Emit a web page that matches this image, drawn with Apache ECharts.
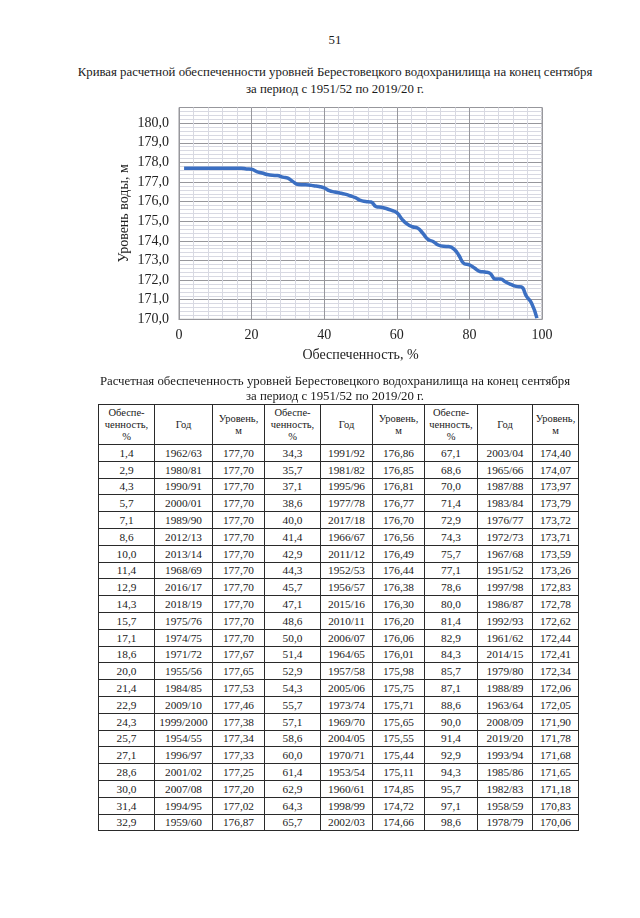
<!DOCTYPE html>
<html>
<head>
<meta charset="utf-8">
<script src="https://cdn.jsdelivr.net/npm/echarts@6/dist/echarts.min.js"></script>
<style>
  html, body { margin: 0; padding: 0; background: #fff; }
  body { width: 640px; height: 918px; position: relative; overflow: hidden; font-family: "Liberation Serif", "DejaVu Serif", serif; color: #1a1a1a; }
  .txt { position: absolute; left: 0; width: 670px; text-align: center; font-size: 12.8px; line-height: 16px; }
  #chart { position: absolute; left: 0; top: 0; width: 640px; height: 380px; }
  #tbl { position: absolute; left: 98px; top: 404px; border-collapse: collapse; table-layout: fixed; width: 480px; }
  #tbl td, #tbl th { border: 1px solid #2a2a2a; text-align: center; padding: 0; font-weight: normal; color: #1a1a1a; }
  #tbl th { line-height: 12px; font-size: 10.5px; }
  #tbl tr.h { height: 40px; }
  #tbl tr.r { height: 16.8px; }
  #tbl td { font-size: 11.3px; line-height: 13px; padding-top: 1px; }
</style>
</head>
<body>
<div class="txt" style="top:32px;">51</div>
<div class="txt" style="top:64px;line-height:17px;">Кривая расчетной обеспеченности уровней Берестовецкого водохранилища на конец сентября<br>за период с 1951/52 по 2019/20 г.</div>
<div id="chart"></div>
<div class="txt" style="top:374px;line-height:15px;">Расчетная обеспеченность уровней Берестовецкого водохранилища на конец сентября<br>за период с 1951/52 по 2019/20 г.</div>
<table id="tbl"></table>
<script>
// Обеспеченность, %
const probability = [1.4,2.9,4.3,5.7,7.1,8.6,10.0,11.4,12.9,14.3,15.7,17.1,18.6,20.0,21.4,22.9,24.3,25.7,27.1,28.6,30.0,31.4,32.9,
  34.3,35.7,37.1,38.6,40.0,41.4,42.9,44.3,45.7,47.1,48.6,50.0,51.4,52.9,54.3,55.7,57.1,58.6,60.0,61.4,62.9,64.3,65.7,
  67.1,68.6,70.0,71.4,72.9,74.3,75.7,77.1,78.6,80.0,81.4,82.9,84.3,85.7,87.1,88.6,90.0,91.4,92.9,94.3,95.7,97.1,98.6];
// Год
const years = ["1962/63","1980/81","1990/91","2000/01","1989/90","2012/13","2013/14","1968/69","2016/17","2018/19","1975/76","1974/75","1971/72","1955/56","1984/85","2009/10","1999/2000","1954/55","1996/97","2001/02","2007/08","1994/95","1959/60",
  "1991/92","1981/82","1995/96","1977/78","2017/18","1966/67","2011/12","1952/53","1956/57","2015/16","2010/11","2006/07","1964/65","1957/58","2005/06","1973/74","1969/70","2004/05","1970/71","1953/54","1960/61","1998/99","2002/03",
  "2003/04","1965/66","1987/88","1983/84","1976/77","1972/73","1967/68","1951/52","1997/98","1986/87","1992/93","1961/62","2014/15","1979/80","1988/89","1963/64","2008/09","2019/20","1993/94","1985/86","1982/83","1958/59","1978/79"];
// Уровень, м
const levels = [177.70,177.70,177.70,177.70,177.70,177.70,177.70,177.70,177.70,177.70,177.70,177.70,177.67,177.65,177.53,177.46,177.38,177.34,177.33,177.25,177.20,177.02,176.87,
  176.86,176.85,176.81,176.77,176.70,176.56,176.49,176.44,176.38,176.30,176.20,176.06,176.01,175.98,175.75,175.71,175.65,175.55,175.44,175.11,174.85,174.72,174.66,
  174.40,174.07,173.97,173.79,173.72,173.71,173.59,173.26,172.83,172.78,172.62,172.44,172.41,172.34,172.06,172.05,171.90,171.78,171.68,171.65,171.18,170.83,170.06];

const fmt = (v, d) => v.toFixed(d).replace('.', ',');

// ---- chart ----
const chart = echarts.init(document.getElementById('chart'), null, { renderer: 'canvas' });
const font = 'Liberation Serif';
const minorColor = '#d8d9e2';
const majorColor = '#97979c';
chart.setOption({
  animation: false,
  grid: { left: 179, top: 107.5, width: 363, height: 211.8, show: true, borderColor: majorColor, borderWidth: 1, containLabel: false },
  xAxis: [
    { type: 'value', min: 0, max: 100, interval: 4, position: 'bottom',
      axisLine: { show: false }, axisTick: { show: false }, axisLabel: { show: false },
      splitLine: { show: true, lineStyle: { color: minorColor, width: 1 } } },
    { type: 'value', min: 0, max: 100, interval: 20, position: 'bottom',
      axisLine: { show: true, lineStyle: { color: majorColor } }, axisTick: { show: false },
      axisLabel: { show: true, margin: 9, fontFamily: font, fontSize: 14, color: '#222', formatter: v => String(v) },
      splitLine: { show: true, lineStyle: { color: majorColor, width: 1 } },
      name: 'Обеспеченность, %', nameLocation: 'middle', nameGap: 29, nameMoveOverlap: false,
      nameTextStyle: { fontFamily: font, fontSize: 14, color: '#222' } }
  ],
  yAxis: [
    { type: 'value', min: 170, max: 180.8, interval: 0.2, position: 'left',
      axisLine: { show: false }, axisTick: { show: false }, axisLabel: { show: false },
      splitLine: { show: true, lineStyle: { color: minorColor, width: 1 } } },
    { type: 'value', min: 170, max: 180.8, interval: 1, position: 'left',
      axisLine: { show: true, lineStyle: { color: majorColor } }, axisTick: { show: false },
      axisLabel: { show: true, margin: 10, fontFamily: font, fontSize: 14, color: '#222', showMaxLabel: false,
        formatter: v => (Math.abs(v - Math.round(v)) < 1e-6 ? fmt(v, 1) : '') },
      splitLine: { show: true, lineStyle: { color: majorColor, width: 1 } },
      name: 'Уровень воды, м', nameLocation: 'middle', nameGap: 48, nameRotate: 90, nameMoveOverlap: false,
      nameTextStyle: { fontFamily: font, fontSize: 14, color: '#222' } }
  ],
  series: [{
    type: 'line', xAxisIndex: 1, yAxisIndex: 1, smooth: 0.5, showSymbol: false,
    lineStyle: { color: '#3b6fc2', width: 3.5 },
    data: probability.map((p, i) => [p, levels[i]])
  }]
});

// ---- table ----
const tbl = document.getElementById('tbl');
const colW = [56, 58, 52, 56, 52, 52, 53, 55, 46];
let html = '<colgroup>' + colW.map(w => `<col style="width:${w}px">`).join('') + '</colgroup>';
const hdr = ['Обеспе-<br>ченность,<br>%', 'Год', 'Уровень,<br>м'];
html += '<tr class="h">' + [0,1,2].map(() => hdr.map(h => `<th>${h}</th>`).join('')).join('') + '</tr>';
const nRows = 23;
for (let r = 0; r < nRows; r++) {
  html += '<tr class="r">';
  for (let g = 0; g < 3; g++) {
    const i = g * nRows + r;
    html += `<td>${fmt(probability[i], 1)}</td><td>${years[i]}</td><td>${fmt(levels[i], 2)}</td>`;
  }
  html += '</tr>';
}
tbl.innerHTML = html;
</script>
</body>
</html>
